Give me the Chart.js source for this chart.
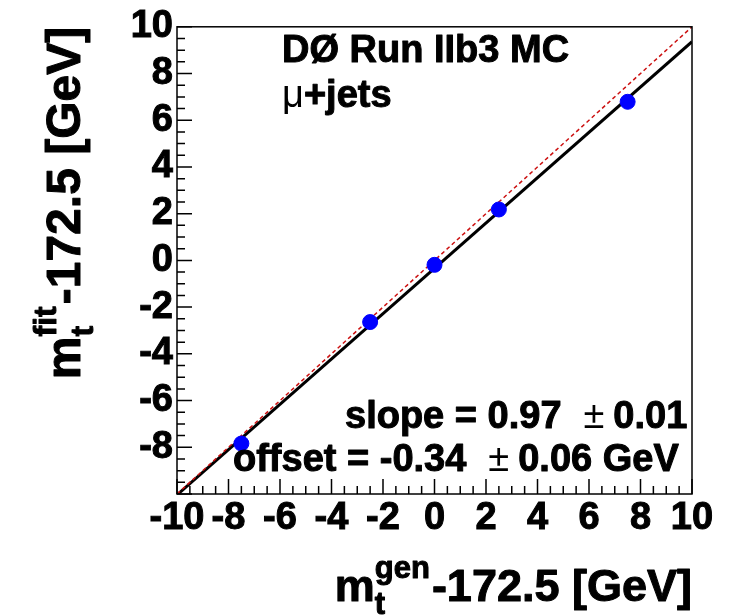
<!DOCTYPE html>
<html>
<head>
<meta charset="utf-8">
<script src="https://cdn.jsdelivr.net/npm/chart.js@4/dist/chart.umd.min.js"></script>
<style>
  html, body { margin: 0; padding: 0; background: #fff; }
  #calib { display: block; }
</style>
</head>
<body>
<canvas id="calib" width="734" height="616"></canvas>
<script>
// generated top mass shift vs fitted shift (GeV), mu+jets MC ensembles
const massGen = [-7.5, -2.5, 0, 2.5, 7.5];
const massFit = [-7.84, -2.64, -0.19, 2.18, 6.79];
const fitSlope = 0.97;
const fitOffset = -0.34;
const axisMin = -10;
const axisMax = 10;

const FONT = '"Liberation Sans", Arial, Helvetica, sans-serif';

// draws a sequence of text pieces one after another on the same baseline
function drawRuns(ctx, x, y, runs) {
  let cx = x;
  runs.forEach(r => {
    ctx.font = r.font;
    if (!r.thin) ctx.strokeText(r.text, cx, y + (r.dy || 0));
    ctx.fillText(r.text, cx, y + (r.dy || 0));
    cx += ctx.measureText(r.text).width + (r.gap || 0);
  });
  return cx;
}
function runsWidth(ctx, runs) {
  let w = 0;
  runs.forEach(r => { ctx.font = r.font; w += ctx.measureText(r.text).width + (r.gap || 0); });
  return w;
}

const frame = {
  id: 'frame',
  afterDatasetsDraw(chart) {
    const { ctx, chartArea: a, scales } = chart;
    ctx.save();
    ctx.strokeStyle = '#000';
    ctx.lineWidth = 1.5;
    ctx.strokeRect(a.left, a.top, a.right - a.left, a.bottom - a.top);
    // inward ticks, major every 2, minor every 0.5
    ctx.beginPath();
    for (let v = axisMin; v <= axisMax + 1e-9; v += 0.5) {
      const major = Math.abs(v / 2 - Math.round(v / 2)) < 1e-9;
      const len = major ? 15 : 8;
      const px = scales.x.getPixelForValue(v);
      ctx.moveTo(px, a.bottom);
      ctx.lineTo(px, a.bottom - len);
      const py = scales.y.getPixelForValue(v);
      ctx.moveTo(a.left, py);
      ctx.lineTo(a.left + len, py);
    }
    ctx.stroke();
    ctx.restore();
  },
  afterDraw(chart) {
    const { ctx, chartArea: a } = chart;
    ctx.save();
    ctx.fillStyle = '#000';
    ctx.strokeStyle = '#000';
    ctx.lineWidth = 1;
    ctx.lineJoin = 'round';
    ctx.textBaseline = 'alphabetic';
    ctx.textAlign = 'left';

    // x axis title, right aligned on the axis end
    const bigX = 'bold 45px ' + FONT;
    const smallX = 'bold 31px ' + FONT;
    const head = f => [{ text: 'm', font: f }];
    const tail = f => [{ text: '-172.5 [GeV]', font: f }];
    ctx.font = smallX;
    const genW = ctx.measureText('gen').width + 2;
    const xW = runsWidth(ctx, head(bigX)) + genW + runsWidth(ctx, tail(bigX));
    const xb = 601;
    let cx = drawRuns(ctx, a.right - xW, xb, head(bigX));
    drawRuns(ctx, cx, xb - 23, [{ text: 'gen', font: smallX }]);
    drawRuns(ctx, cx, xb + 13, [{ text: 't', font: smallX }]);
    drawRuns(ctx, cx + genW, xb, tail(bigX));

    // y axis title, rotated
    const bigY = 'bold 48px ' + FONT;
    const smallY = 'bold 32px ' + FONT;
    ctx.save();
    ctx.translate(80, a.top);
    ctx.rotate(-Math.PI / 2);
    ctx.font = smallY;
    const fitW = ctx.measureText('fit').width + 2;
    const yW = runsWidth(ctx, head(bigY)) + fitW + runsWidth(ctx, tail(bigY));
    cx = drawRuns(ctx, -yW, 0, head(bigY));
    drawRuns(ctx, cx, -24, [{ text: 'fit', font: smallY }]);
    drawRuns(ctx, cx, 13, [{ text: 't', font: smallY }]);
    drawRuns(ctx, cx + fitW, 0, tail(bigY));
    ctx.restore();

    // labels inside the frame
    const lab = 'bold 38px ' + FONT;
    const sym = '38px ' + FONT;
    drawRuns(ctx, 282, 62, [{ text: 'DØ Run IIb3 MC', font: lab }]);
    drawRuns(ctx, 282, 107, [{ text: 'μ', font: sym, thin: true }, { text: '+jets', font: lab }]);

    const slopeRuns = [
      { text: 'slope = ' + fitSlope.toFixed(2), font: lab, gap: 22 },
      { text: '±', font: sym, thin: true, gap: 9 },
      { text: '0.01', font: lab }
    ];
    const offRuns = [
      { text: 'offset = ' + fitOffset.toFixed(2), font: lab, gap: 22 },
      { text: '±', font: sym, thin: true, gap: 9 },
      { text: '0.06 GeV', font: lab }
    ];
    drawRuns(ctx, 345, 428, slopeRuns);
    drawRuns(ctx, 233, 471, offRuns);
    ctx.restore();
  }
};

const fitLine = [axisMin, axisMax].map(x => ({ x: x, y: fitOffset + fitSlope * x }));
const unitLine = [axisMin, axisMax].map(x => ({ x: x, y: x }));

const tickFont = { family: FONT, size: 38, weight: 'bold' };

new Chart(document.getElementById('calib'), {
  type: 'scatter',
  data: {
    datasets: [
      {
        label: 'ensembles',
        data: massGen.map((x, i) => ({ x: x, y: massFit[i] })),
        backgroundColor: '#0000ff',
        borderColor: '#0000ff',
        pointRadius: 7.5,
        showLine: false
      },
      {
        label: 'y = x',
        data: unitLine,
        showLine: true,
        borderColor: '#cc1111',
        borderWidth: 1.5,
        borderDash: [4, 3],
        pointRadius: 0
      },
      {
        label: 'fit',
        data: fitLine,
        showLine: true,
        borderColor: '#000',
        borderWidth: 3,
        pointRadius: 0
      }
    ]
  },
  options: {
    responsive: false,
    animation: false,
    events: [],
    layout: { padding: { left: 0, top: 21, right: 42, bottom: 0 } },
    plugins: { legend: { display: false }, tooltip: { enabled: false } },
    scales: {
      x: {
        type: 'linear',
        min: axisMin,
        max: axisMax,
        grid: { display: false, drawTicks: false },
        border: { display: false },
        ticks: {
          stepSize: 2, autoSkip: false, maxRotation: 0, padding: 2, color: '#000',
          font: tickFont, textStrokeColor: '#000', textStrokeWidth: 1
        },
        afterFit(s) { s.height = 122; }
      },
      y: {
        type: 'linear',
        min: axisMin,
        max: axisMax,
        grid: { display: false, drawTicks: false },
        border: { display: false },
        ticks: {
          stepSize: 2, autoSkip: false, padding: 4, color: '#000',
          font: tickFont, textStrokeColor: '#000', textStrokeWidth: 1,
          // the -10 label is left to the x axis
          callback: v => (v === axisMin ? '' : String(v))
        },
        afterFit(s) { s.width = 177; }
      }
    }
  },
  plugins: [frame]
});
</script>
</body>
</html>
